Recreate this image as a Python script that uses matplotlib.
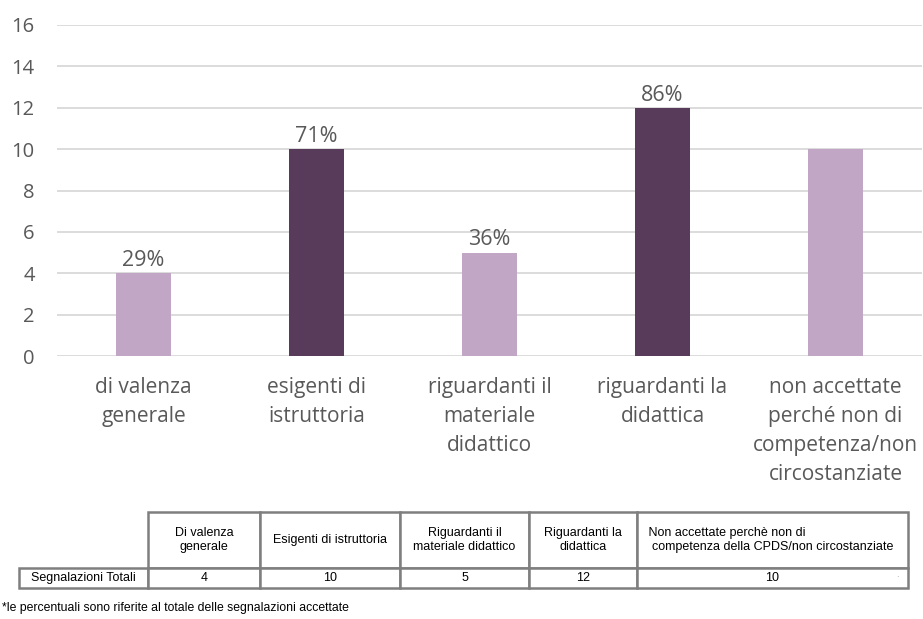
import matplotlib.pyplot as plt
import numpy as np

# chart data
categories = ["di valenza\ngenerale", "esigenti di\nistruttoria",
              "riguardanti il\nmateriale\ndidattico", "riguardanti la\ndidattica",
              "non accettate\nperché non di\ncompetenza/non\ncircostanziate"]
counts = [4, 10, 5, 12, 10]
pct_labels = ["29%", "71%", "36%", "86%", ""]
bar_colors = ["#C1A6C6", "#583A5A", "#C1A6C6", "#583A5A", "#C1A6C6"]

# table data
table_header = ["", "Di valenza\ngenerale", "Esigenti di istruttoria",
                "Riguardanti il\nmateriale didattico", "Riguardanti la\ndidattica",
                " Non accettate perchè non di\n  competenza della CPDS/non circostanziate"]
table_row = ["Segnalazioni Totali", "4", "10", "5", "12", "10"]
footnote = "*le percentuali sono riferite al totale delle segnalazioni accettate"

W, H = 923, 619
fig = plt.figure(figsize=(W / 100, H / 100), dpi=100)

# bar chart
ax = fig.add_axes([57 / W, 1 - 356 / H, 865 / W, 331 / H])
x = np.arange(len(categories))
bars = ax.bar(x, counts, width=0.32, color=bar_colors, zorder=3)
for b, lab in zip(bars, pct_labels):
    ax.text(b.get_x() + b.get_width() / 2, b.get_height() + 0.1, lab,
            ha="center", va="bottom", fontsize=15.5, color="#595959",
            family="Open Sans")

ax.set_xlim(-0.5, len(categories) - 0.5)
ax.set_ylim(0, 16)
ax.set_yticks(range(0, 17, 2))
ax.yaxis.grid(True, color="#D9D9D9", lw=1.3, zorder=0)
ax.set_xticks(x)
ax.set_xticklabels(categories, fontsize=15, color="#595959", family="Open Sans",
                   linespacing=1.5, va="top")
for t in ax.get_yticklabels():
    t.set_fontsize(14.5)
    t.set_color("#595959")
    t.set_family("Open Sans")
ax.tick_params(axis="both", length=0)
ax.tick_params(axis="y", pad=16)
ax.tick_params(axis="x", pad=15)
for s in ax.spines.values():
    s.set_visible(False)

# table
tax = fig.add_axes([19 / W, 1 - 588 / H, 889 / W, 76 / H])
tax.axis("off")
col_px = [129, 112, 140, 129, 108, 271]
col_w = [c / sum(col_px) for c in col_px]
tbl = tax.table(cellText=[table_header, table_row], colWidths=col_w,
                cellLoc="center", bbox=[0, 0, 1, 1])
tbl.auto_set_font_size(False)
for (r, c), cell in tbl.get_celld().items():
    cell.set_edgecolor("#7F7F7F")
    cell.set_linewidth(1.8)
    cell.get_text().set_fontsize(9)
    cell.get_text().set_family("Liberation Sans")
    cell.get_text().set_linespacing(1.3)
    cell.set_height(56 / 76 if r == 0 else 20 / 76)
    if r == 0 and c == 0:
        cell.set_edgecolor("none")
    if r == 0 and c == 5:
        cell.get_text().set_ha("left")
        cell.PAD = 0.03
tax.text(0.988, 10 / 76, "·", ha="center", va="center", fontsize=6, color="#999999")

fig.text(2 / W, 1 - 608 / H, footnote, ha="left", va="center", fontsize=8.8,
         family="Liberation Sans", color="#000000")

fig.savefig("out.png", dpi=100)
